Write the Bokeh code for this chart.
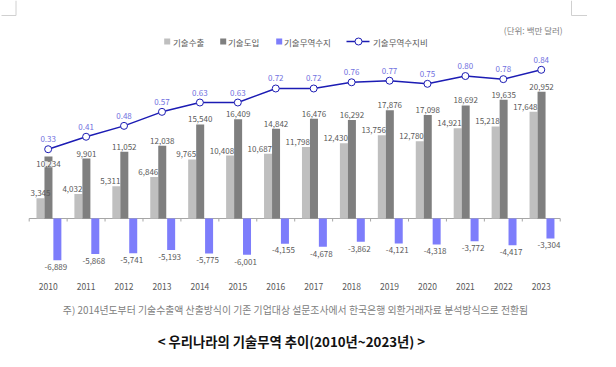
from bokeh.plotting import figure
from bokeh.models import Range1d, ColumnDataSource, Label
from bokeh.core.properties import value
from bokeh.embed import file_html
from bokeh.resources import INLINE

# ---------------- data ----------------
years = ["2010", "2011", "2012", "2013", "2014", "2015", "2016",
         "2017", "2018", "2019", "2020", "2021", "2022", "2023"]
tech_export = [3345, 4032, 5311, 6846, 9765, 10408, 10687,
               11798, 12430, 13756, 12780, 14921, 15218, 17648]
tech_import = [10234, 9901, 11052, 12038, 15540, 16409, 14842,
               16476, 16292, 17876, 17098, 18692, 19635, 20952]
trade_balance = [-6889, -5868, -5741, -5193, -5775, -6001, -4155,
                 -4678, -3862, -4121, -4318, -3772, -4417, -3304]
trade_ratio = [0.33, 0.41, 0.48, 0.57, 0.63, 0.63, 0.72,
               0.72, 0.76, 0.77, 0.75, 0.80, 0.78, 0.84]
series_names = ["기술수출", "기술도입", "기술무역수지", "기술무역수지비"]
unit_text = "(단위:  백만  달러)"
note_text = "주) 2014년도부터 기술수출액 산출방식이 기존 기업대상 설문조사에서 한국은행 외환거래자료 분석방식으로 전환됨"
title_text = "<  우리나라의  기술무역  추이(2010년~2023년)  >"

# ---------------- layout (page pixel geometry) ----------------
W, H = 600, 350
MARGIN = 8
PX = 37.93          # px per category
X0 = 36.7           # page x of left edge of first category
VY = 0.00605        # px per unit of value
Y0 = 226.0          # page y of zero line
R0, RS = 208.1, 155.7   # ratio axis: page y = R0 - RS * r


def xd(px):
    return (px - X0) / PX - 0.5


def yd(py):
    return (Y0 - py) / VY


def u(px):
    return px / PX


def vy(px):
    return px / VY


KR = value("Noto Sans CJK KR")
C_LIGHT = "#bfbfbf"
C_DARK = "#7f7f7f"
C_BLUE = "#7d7dfb"
C_LINE = "#1c1cb4"
C_RLABEL = "#7070e0"
C_TEXT = "#595959"

p = figure(width=W, height=H, output_backend="svg", toolbar_location=None,
           x_range=Range1d(xd(MARGIN), xd(MARGIN + W)),
           y_range=Range1d(yd(MARGIN + H), yd(MARGIN)),
           x_axis_type=None, y_axis_type=None, min_border=0,
           outline_line_color=None, background_fill_color="white",
           border_fill_color="white")
p.grid.visible = False
p.extra_y_ranges = {"ratio": Range1d((R0 - (MARGIN + H)) / RS, (R0 - MARGIN) / RS)}

n = len(years)
xs = list(range(n))
BW = u(8.0)
OFF_L, OFF_D, OFF_B = u(-7.7), u(0.3), u(9.2)

src = ColumnDataSource(dict(
    x=xs,
    xl=[i + OFF_L for i in xs],
    xdk=[i + OFF_D for i in xs],
    xb=[i + OFF_B for i in xs],
    exp=tech_export, imp=tech_import, bal=trade_balance, ratio=trade_ratio,
))

# zero axis line and ticks at category boundaries
bounds = [i - 0.5 for i in range(n + 1)]
p.segment(x0=[-0.5], y0=[0], x1=[n - 0.5], y1=[0], line_color="#a6a6a6", line_width=1)
p.segment(x0=bounds, y0=[0] * len(bounds), x1=bounds, y1=[-vy(3)] * len(bounds),
          line_color="#a6a6a6", line_width=1)

# bars
p.vbar(x="xl", top="exp", bottom=0, width=BW, source=src, fill_color=C_LIGHT, line_color=None)
p.vbar(x="xdk", top="imp", bottom=0, width=BW, source=src, fill_color=C_DARK, line_color=None)
p.vbar(x="xb", top="bal", bottom=0, width=BW, source=src, fill_color=C_BLUE, line_color=None)

# ratio line
p.line(x="x", y="ratio", source=src, y_range_name="ratio", line_color=C_LINE, line_width=1.5)
p.scatter(x="x", y="ratio", source=src, y_range_name="ratio", marker="circle", size=7,
          fill_color="white", line_color=C_LINE, line_width=1)

# ---------------- value labels ----------------
fs = value("8px")
# light bars: right aligned at bar's right edge (first one centred)
lx, la = [], []
for i in xs:
    if i == 0:
        lx.append(i + OFF_L)
        la.append("center")
    else:
        lx.append(i + OFF_L + BW / 2)
        la.append("right")
p.text(x=lx, y=[v + vy(5) for v in tech_export], text=[f"{v:,}" for v in tech_export],
       text_align=la, text_baseline="middle", text_font=KR, text_font_size=fs,
       text_color=C_TEXT)
# dark bars (first one sits inside its bar)
p.text(x=[i + OFF_D for i in xs[1:]], y=[v + vy(5) for v in tech_import[1:]],
       text=[f"{v:,}" for v in tech_import[1:]], text_align="center",
       text_baseline="middle", text_font=KR, text_font_size=fs, text_color=C_TEXT)
p.add_layout(Label(x=0 + OFF_D, y=tech_import[0] - vy(7.7), text=f"{tech_import[0]:,}",
                   text_align="center", text_baseline="middle",
                   text_font="Noto Sans CJK KR", text_font_size="8px", text_color=C_TEXT,
                   background_fill_color="white", background_fill_alpha=0.85))
# balance bars
p.text(x=[i + OFF_B - u(1.5) for i in xs], y=[v - vy(6.8) for v in trade_balance],
       text=[f"{v:,}" for v in trade_balance], text_align="center", text_baseline="middle",
       text_font=KR, text_font_size=fs, text_color=C_TEXT)
# ratio labels
p.text(x=xs, y=[r + 10 / RS for r in trade_ratio], y_range_name="ratio",
       text=[f"{r:.2f}" for r in trade_ratio], text_align="center", text_baseline="middle",
       text_font=KR, text_font_size=fs, text_color=C_RLABEL)

# year labels
p.text(x=xs, y=[yd(294)] * n, text=years, text_align="center", text_baseline="middle",
       text_font=KR, text_font_size=value("8.5px"), text_color=C_TEXT)

# ---------------- legend (manual) ----------------
LY = yd(49)
sq_x = [174.7, 230.7, 286.7]
sq_c = [C_LIGHT, C_DARK, C_BLUE]
p.scatter(x=[xd(v) for v in sq_x], y=[LY] * 3, marker="square", size=6,
          fill_color=sq_c, line_color=None)
p.segment(x0=[xd(354)], y0=[LY], x1=[xd(377)], y1=[LY], line_color=C_LINE, line_width=1.5)
p.scatter(x=[xd(366)], y=[LY], marker="circle", size=7, fill_color="white",
          line_color=C_LINE, line_width=1)
p.text(x=[xd(v) for v in [180.5, 235.5, 291.5, 380.5]], y=[LY] * 4, text=series_names,
       text_align="left", text_baseline="middle", text_font=KR,
       text_font_size=value("8.5px"), text_color=C_TEXT)

# unit label
p.text(x=[xd(574)], y=[yd(37.5)], text=[unit_text], text_align="right",
       text_baseline="middle", text_font=KR, text_font_size=value("8.5px"),
       text_color="#808080")

# note
p.text(x=[xd(303)], y=[yd(317.5)], text=[note_text], text_align="center",
       text_baseline="middle", text_font=KR, text_font_size=value("9.9px"),
       text_color="#808080")

# title
p.text(x=[xd(305)], y=[yd(349)], text=[title_text], text_align="center",
       text_baseline="middle", text_font=KR, text_font_size=value("13.3px"),
       text_font_style="bold", text_color="#111111")

# page corner marks
p.segment(x0=[xd(23.5), xd(9), xd(579), xd(579)],
          y0=[yd(8), yd(23), yd(8), yd(23)],
          x1=[xd(23.5), xd(23.5), xd(579), xd(594.5)],
          y1=[yd(23), yd(23), yd(23), yd(23)],
          line_color="#d0d0d0", line_width=1)

open("out.html", "w").write(file_html(p, INLINE))
